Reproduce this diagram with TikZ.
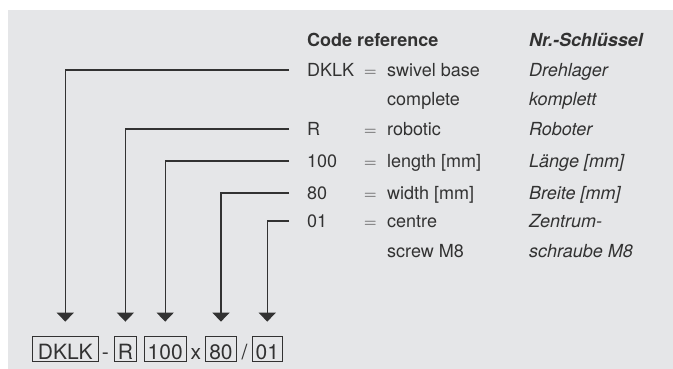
\documentclass[tikz,border=0pt]{standalone}
\usepackage{fontspec}
\setmainfont{TeX Gyre Heros}
\usetikzlibrary{arrows.meta,positioning}
\definecolor{panel}{RGB}{229,230,232}
\definecolor{ink}{RGB}{50,50,50}

\begin{document}
\begin{tikzpicture}[x=1pt, y=-1pt, >={Triangle[length=9pt,width=17pt]}, node distance=5pt]
	\tikzset{
		row/.style={anchor=west, inner sep=0pt, text=ink, text height=12.8pt, text depth=0pt, font=\fontsize{18}{21}\selectfont},
		head/.style={row, font=\fontsize{18}{21}\selectfont\bfseries},
		de/.style={row, font=\fontsize{18}{21}\selectfont\itshape},
		codebox/.style={draw=ink, line width=0.7pt, text=ink, inner xsep=3.5pt, inner ysep=2.5pt, text height=20.5pt, text depth=0pt, font=\fontsize{21}{24}\selectfont},
		codesep/.style={inner sep=0pt, text=ink, font=\fontsize{21}{24}\selectfont},
		lead/.style={draw=ink, line width=1.3pt, ->, shorten >=14pt}
	}
	\useasboundingbox (0,0) rectangle (673,369);
	\fill[panel] (8,10) rectangle (673,369);

	% table
	\node[head] (h-en) at (307,40) {Code reference};
	\node[head, font=\fontsize{18}{21}\selectfont\bfseries\itshape] (h-de) at (529,40) {Nr.-Schlüssel};

	\node[row] (c-dklk) at (307,70)  {DKLK};
	\node[row] (c-r)    at (307,129) {R};
	\node[row] (c-len)  at (307,161) {100};
	\node[row] (c-wid)  at (307,193) {80};
	\node[row] (c-ctr)  at (307,221) {01};

	\node[row] (e-dklk) at (364,70)  {$=$};
	\node[row] (e-r)    at (364,129) {$=$};
	\node[row] (e-len)  at (364,161) {$=$};
	\node[row] (e-wid)  at (364,193) {$=$};
	\node[row] (e-ctr)  at (364,221) {$=$};

	\node[row] (d-dklk)  at (387,70)  {swivel base};
	\node[row] (d-dklk2) at (387,99)  {complete};
	\node[row] (d-r)     at (387,129) {robotic};
	\node[row] (d-len)   at (387,161) {length [mm]};
	\node[row] (d-wid)   at (387,193) {width [mm]};
	\node[row] (d-ctr)   at (387,221) {centre};
	\node[row] (d-ctr2)  at (387,251) {screw M8};

	\node[de] (g-dklk)  at (529,70)  {Drehlager};
	\node[de] (g-dklk2) at (529,99)  {komplett};
	\node[de] (g-r)     at (529,129) {Roboter};
	\node[de] (g-len)   at (529,161) {Länge [mm]};
	\node[de] (g-wid)   at (529,193) {Breite [mm]};
	\node[de] (g-ctr)   at (529,221) {Zentrum-};
	\node[de] (g-ctr2)  at (529,251) {schraube M8};

	% order code
	\node[codebox, inner xsep=5.5pt, anchor=base west] (b-dklk) at (32,359) {DKLK};
	\node[codesep] (s1)    [base right=3pt of b-dklk] {-};
	\node[codebox] (b-r)   [base right=5pt of s1]     {R};
	\node[codebox] (b-len) [base right=7pt of b-r]    {100};
	\node[codesep] (s2)    [base right=4pt of b-len]  {x};
	\node[codebox] (b-wid) [base right=4pt of s2]     {80};
	\node[codesep] (s3)    [base right=5pt of b-wid]  {/};
	\node[codebox] (b-ctr) [base right=4pt of s3]     {01};

	% leaders
	\draw[lead] ([xshift=-18pt]c-dklk.west) -| (b-dklk.north);
	\draw[lead] ([xshift=-18pt]c-r.west)    -| (b-r.north);
	\draw[lead] ([xshift=-18pt]c-len.west)  -| (b-len.north);
	\draw[lead] ([xshift=-18pt]c-wid.west)  -| (b-wid.north);
	\draw[lead] ([xshift=-18pt]c-ctr.west)  -| (b-ctr.north);
\end{tikzpicture}
\end{document}
